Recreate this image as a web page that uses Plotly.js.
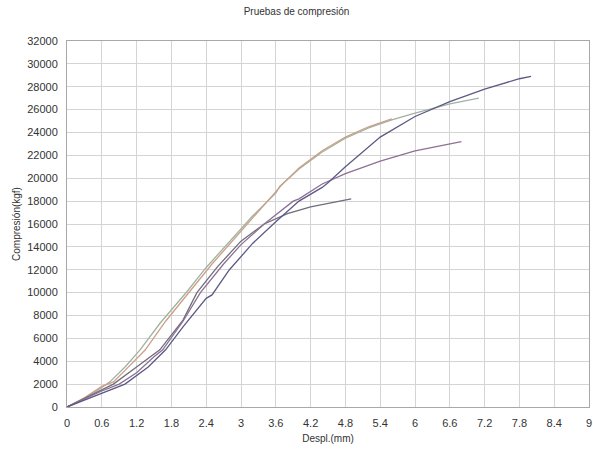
<!DOCTYPE html>
<html>
<head>
<meta charset="utf-8">
<script src="https://cdn.plot.ly/plotly-3.0.1.min.js"></script>
<style>html,body{margin:0;padding:0;background:#fff;}#chart{width:593px;height:457px;}</style>
</head>
<body>
<div id="chart"></div>
<script>
// Data (Despl. mm, Compresión kgf)
const greenX = [0,0.3,0.6,0.74,1.0,1.26,1.6,2.0,2.07,2.4,2.8,3.2,3.6,3.67,4.0,4.4,4.8,5.2,5.6,6.0,6.6,7.1];
const greenY = [0,700,1700,2200,3500,5000,7300,9700,10100,12200,14500,16700,18700,19300,20800,22300,23500,24400,25100,25700,26500,27000];

const orangeX = [0,0.3,0.6,0.8,1.0,1.35,1.7,2.1,2.15,2.5,2.9,3.3,3.6,3.7,4.0,4.4,4.8,5.2,5.6];
const orangeY = [0,800,1800,2200,3200,5000,7500,10000,10300,12500,14800,17100,18800,19400,20900,22400,23600,24500,25200];

const grayX = [0,0.6,0.8,1.2,1.6,2.0,2.24,2.6,3.0,3.4,3.8,4.2,4.6,4.9];
const grayY = [0,1500,2000,3500,5000,7600,10000,12300,14500,16000,16900,17500,17900,18200];

const mauveX = [0,0.6,0.9,1.2,1.5,1.65,2.0,2.3,2.7,3.0,3.4,3.9,4.0,4.4,4.8,5.4,6.0,6.6,6.8];
const mauveY = [0,1400,2000,3000,4400,5000,7500,10000,12500,14200,16000,18000,18200,19500,20400,21500,22400,23000,23200];

const purpleX = [0,0.6,1.0,1.4,1.7,2.0,2.4,2.5,2.8,3.2,3.6,4.0,4.4,4.5,4.8,5.4,6.0,6.6,7.2,7.8,8.0];
const purpleY = [0,1200,2000,3500,5000,7000,9500,9800,12000,14300,16200,18000,19200,19600,21000,23600,25400,26700,27800,28700,28900];

const xTicks = [0,0.6,1.2,1.8,2.4,3,3.6,4.2,4.8,5.4,6,6.6,7.2,7.8,8.4,9];
const xTickText = ["0","0.6","1.2","1.8","2.4","3","3.6","4.2","4.8","5.4","6","6.6","7.2","7.8","8.4","9"];

const series = [
  {x: greenX, y: greenY, color: '#9fb3a2'},
  {x: orangeX, y: orangeY, color: '#cc9f86'},
  {x: grayX, y: grayY, color: '#6e6e78'},
  {x: mauveX, y: mauveY, color: '#8e6f96'},
  {x: purpleX, y: purpleY, color: '#5c5a84'}
];

const traces = series.map(s => ({
  x: s.x, y: s.y, type: 'scatter', mode: 'lines',
  line: {color: s.color, width: 1.3}, hoverinfo: 'none', showlegend: false
}));

const font = {family: '"Liberation Sans", Arial, sans-serif', size: 11, color: '#333'};

const layout = {
  width: 593, height: 457,
  margin: {l: 67, r: 4, t: 41, b: 50},
  paper_bgcolor: '#fff', plot_bgcolor: '#fff',
  font: font,
  title: {text: 'Pruebas de compresión', font: {family: font.family, size: 10, color: '#333'}, x: 0.5, xanchor: 'center', y: 0.975, yanchor: 'middle'},
  xaxis: {
    range: [0, 9], tickvals: xTicks, ticktext: xTickText,
    showgrid: true, gridcolor: '#d4d4d4', gridwidth: 1,
    zeroline: false, showline: true, linecolor: '#a8a8a8', linewidth: 1, mirror: true,
    ticks: '', ticklabelstandoff: 6,
    tickfont: {family: font.family, size: 11, color: '#333'},
    title: {text: 'Despl.(mm)', font: {family: font.family, size: 10, color: '#333'}, standoff: 6}
  },
  yaxis: {
    range: [0, 32000], dtick: 2000, tick0: 0, tickformat: 'd',
    showgrid: true, gridcolor: '#d4d4d4', gridwidth: 1,
    zeroline: false, showline: true, linecolor: '#a8a8a8', linewidth: 1, mirror: true,
    ticks: '', ticklabelstandoff: 6,
    tickfont: {family: font.family, size: 11, color: '#333'},
    title: {text: 'Compresión(kgf)', font: {family: font.family, size: 10, color: '#333'}, standoff: 4}
  }
};

Plotly.newPlot('chart', traces, layout, {displayModeBar: false, staticPlot: true});
</script>
</body>
</html>
